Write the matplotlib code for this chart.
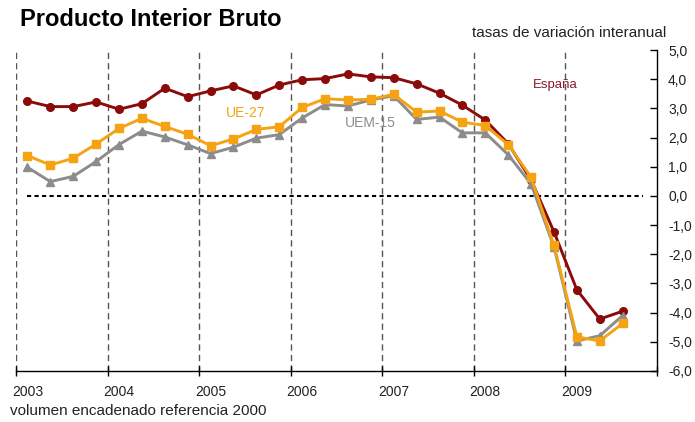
import numpy as np
import pandas as pd
import matplotlib
matplotlib.use('Agg')
import matplotlib.pyplot as plt
from matplotlib.ticker import FixedLocator, FuncFormatter

plt.rcParams['font.family'] = ['Liberation Sans', 'DejaVu Sans']

# quarterly data 2003Q1 - 2009Q3, tasas de variación interanual
periods = pd.period_range('2003Q1', '2009Q3', freq='Q')
espana = [3.25, 3.06, 3.06, 3.22, 2.97, 3.16, 3.69, 3.40, 3.60, 3.77, 3.46, 3.80,
          3.98, 4.02, 4.18, 4.08, 4.05, 3.84, 3.52, 3.11, 2.60, 1.79, 0.55, -1.23,
          -3.22, -4.22, -3.95]
ue27 = [1.38, 1.06, 1.29, 1.78, 2.31, 2.66, 2.38, 2.11, 1.72, 1.95, 2.28, 2.37,
        3.03, 3.33, 3.29, 3.31, 3.48, 2.87, 2.91, 2.53, 2.41, 1.76, 0.64, -1.69,
        -4.83, -4.97, -4.37]
uem15 = [0.98, 0.49, 0.67, 1.18, 1.76, 2.22, 2.02, 1.75, 1.45, 1.67, 1.98, 2.10,
         2.67, 3.13, 3.08, 3.29, 3.43, 2.62, 2.70, 2.16, 2.16, 1.41, 0.41, -1.75,
         -4.97, -4.79, -4.10]
years = list(range(2003, 2010))
yticks = list(range(-6, 6))

# place each quarter in the middle of its slot within the year
x = np.array([p.year + (p.quarter - 0.5) / 4 for p in periods])

col_es = '#8B0A0A'
col_ue = '#F5A312'
col_uem = '#8C8C8C'

fig = plt.figure(figsize=(6.95, 4.22), dpi=100)
ax = fig.add_axes([16 / 695, 1 - 371 / 422, 641 / 695, 321 / 422])

# vertical year separators
for yr in years:
    ax.axvline(yr, color='#555555', lw=1, linestyle=(0, (4.5, 3)), zorder=1)
# zero line
ax.axhline(0, xmin=0.017, xmax=0.978, color='black', lw=1.5, linestyle=(0, (2, 1.6)), zorder=1)

ax.plot(x, espana, color=col_es, lw=2.1, marker='o', ms=5.5, zorder=3)
ax.plot(x, uem15, color=col_uem, lw=2.1, marker='^', ms=6, zorder=4)
ax.plot(x, ue27, color=col_ue, lw=2.1, marker='s', ms=5.5, zorder=5)

ax.text(2008.89, 3.81, 'España', color='#8B1A2A', fontsize=9.5, ha='center', va='center')
ax.text(2005.51, 2.85, 'UE-27', color=col_ue, fontsize=10, ha='center', va='center')
ax.text(2006.87, 2.5, 'UEM-15', color=col_uem, fontsize=10, ha='center', va='center')

ax.set_xlim(2003, 2010)
ax.set_ylim(-6, 5)

for s in ['left', 'top']:
    ax.spines[s].set_visible(False)
ax.spines['bottom'].set_linewidth(1)
ax.spines['right'].set_linewidth(1)

# x: tick marks on years, labels shifted to first quarter
ax.xaxis.set_major_locator(FixedLocator(years + [2010]))
ax.xaxis.set_minor_locator(FixedLocator([yr + 0.125 for yr in years]))
ax.xaxis.set_major_formatter(FuncFormatter(lambda v, p: ''))
ax.xaxis.set_minor_formatter(FuncFormatter(lambda v, p: str(int(v))))
ax.tick_params(axis='x', which='major', direction='inout', length=7, width=1)
ax.tick_params(axis='x', which='minor', length=0, pad=10, labelsize=10, labelcolor='#222222')

ax.yaxis.tick_right()
ax.set_yticks(yticks)
ax.yaxis.set_major_formatter(FuncFormatter(lambda v, p: f'{v:.1f}'.replace('.', ',')))
ax.tick_params(axis='y', direction='in', length=5, width=1, pad=8, labelsize=10,
               labelcolor='#222222')

fig.text(20 / 695, 1 - 19 / 422, 'Producto Interior Bruto', fontsize=17, fontweight='bold',
         ha='left', va='center')
fig.text(666 / 695, 1 - 33 / 422, 'tasas de variación interanual', fontsize=11,
         ha='right', va='center', color='#222222')
fig.text(10 / 695, 1 - 411 / 422, 'volumen encadenado referencia 2000', fontsize=11,
         ha='left', va='center', color='#222222')

fig.savefig('out.png', dpi=100)
